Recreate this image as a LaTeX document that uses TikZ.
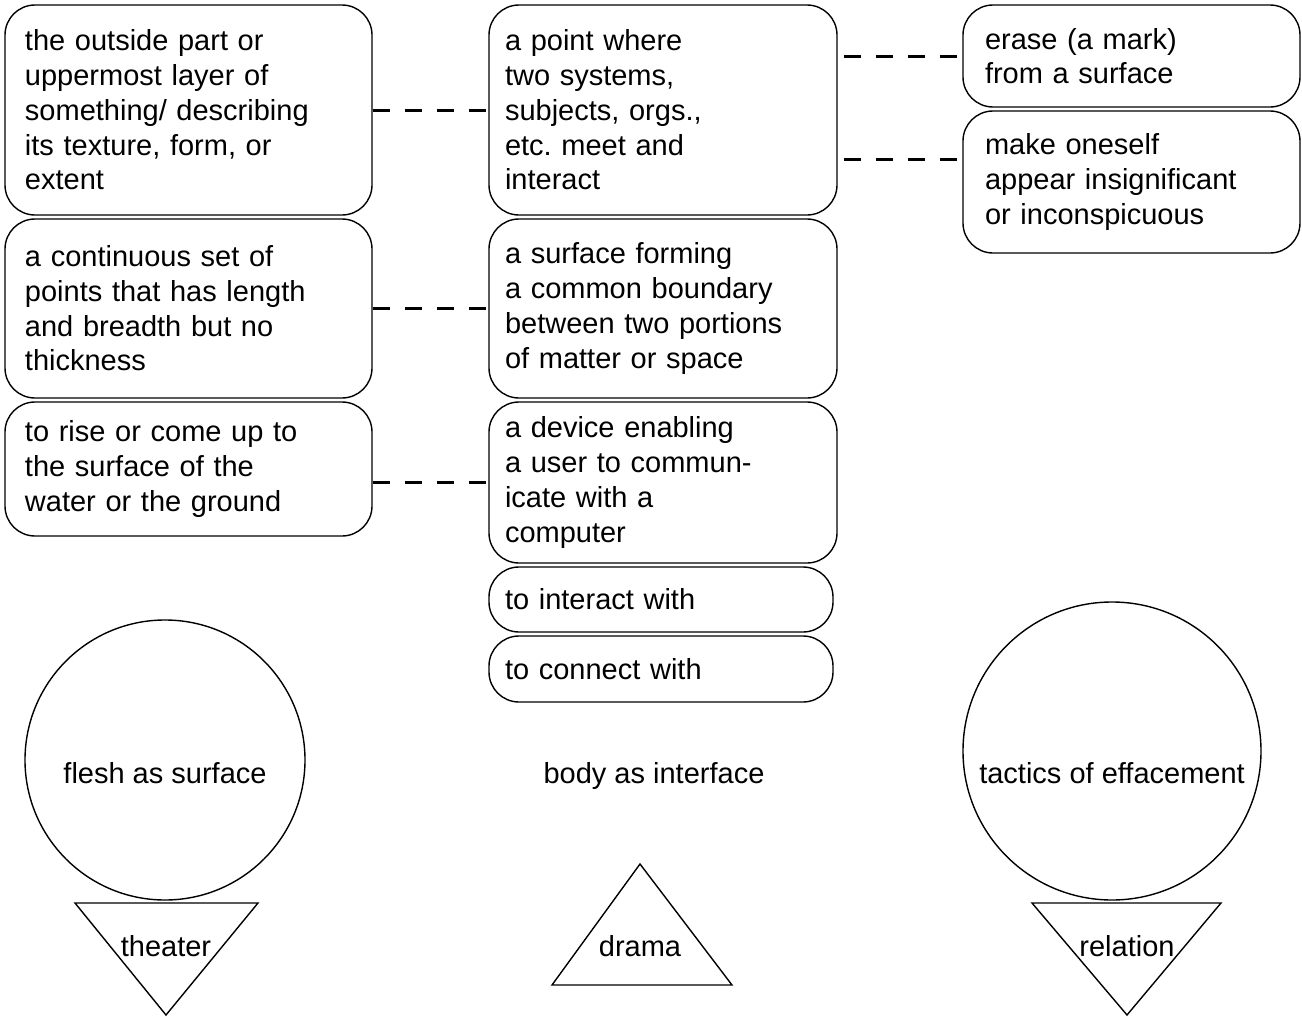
\documentclass[tikz,border=0pt]{standalone}
\usepackage{fontspec}
\setmainfont{Liberation Sans}
\usepackage{tikz}
\usetikzlibrary{positioning, calc}
\frenchspacing
\tikzset{
  % --- definition boxes (one column per concept) ---
  defbox/.style={
    draw, rectangle, rounded corners=15pt, align=left, line width=0.7pt,
    inner ysep=0pt, font=\fontsize{14.5pt}{17.35pt}\selectfont,
  },
  surfbox/.style={defbox, text width=163.5pt, inner xsep=10pt},
  intfbox/.style={defbox, text width=158pt, inner xsep=8pt},
  effbox/.style={defbox, text width=146.5pt, inner xsep=11pt},
  % --- concept shapes ---
  concept/.style={draw, circle, line width=0.7pt, inner sep=0pt},
  tag/.style={font=\fontsize{14.5pt}{17.35pt}\selectfont, inner sep=0pt,
    text height=10.5pt, text depth=0pt},
  triangle/.style={line width=0.7pt, line join=miter},
  % --- dashed links between boxes ---
  link/.style={dash pattern=on 8.5pt off 7.5pt, line width=1.5pt},
}

\begin{document}
\begin{tikzpicture}[x=0.5pt, y=-0.5pt]
    \useasboundingbox (0,0) rectangle (1302,1017);
    % left column: surface
    \node[surfbox, minimum height=105pt]  (surf1) at (188.5,110)   {the outside part or\\uppermost layer of\\something/ describing\\its texture, form, or\\extent};
    \node[surfbox, minimum height=89.5pt] (surf2) at (188.5,308.5) {a continuous set of\\points that has length\\and breadth but no\\thickness};
    \node[surfbox, minimum height=67pt]   (surf3) at (188.5,469)   {to rise or come up to\\the surface of the\\water or the ground};
    % middle column: interface
    \node[intfbox, minimum height=105pt]  (intf1) at (663,110)   {a point where\\two systems,\\subjects, orgs.,\\etc. meet and\\interact};
    \node[intfbox, minimum height=89.5pt] (intf2) at (663,308.5) {a surface forming\\a common boundary\\between two portions\\of matter or space};
    \node[intfbox, minimum height=80.5pt] (intf3) at (663,482.5) {a device enabling\\a user to commun-\\icate with a\\computer};
    \node[intfbox, text width=156pt, minimum height=32.5pt] (intf4) at (661,599.5) {to interact with};
    \node[intfbox, text width=156pt, minimum height=33pt]   (intf5) at (661,669)   {to connect with};
    % right column: effacement
    \node[effbox, minimum height=51pt] (eff1) at (1131.5,56)  {erase (a mark)\\from a surface};
    \node[effbox, minimum height=71pt] (eff2) at (1131.5,182) {make oneself\\appear insignificant\\or inconspicuous};
    % links
    \draw[link] (surf1.east) -- (intf1.west);
    \draw[link] (surf2.east) -- (intf2.west);
    \draw[link] (intf3.west -| surf3.east) -- (intf3.west);
    \draw[link, dash phase=13pt] (eff1.west -| intf1.east) -- (eff1.west);
    \draw[link, dash phase=13pt] ([yshift=-24.5pt]intf1.east) -- ([yshift=-24.5pt]intf1.east -| eff2.west);
    % concepts
    \node[concept, minimum size=140pt] (flesh) at (165,760) {};
    \node[tag] (fleshtxt) at (165,773) {flesh as surface};
    \node[tag] (bodytxt) at (654,773) {body as interface};
    \node[concept, minimum size=149pt] (tactics) at (1112,751) {};
    \node[tag] (tacticstxt) at (1112,773) {tactics of effacement};
    % triangles
    \draw[triangle] (75,903) -- (258,903) -- (166,1015) -- cycle;
    \node[tag] (theater) at (166,946) {theater};
    \draw[triangle] (640,864) -- (732,985) -- (552,985) -- cycle;
    \node[tag] (drama) at (640,946) {drama};
    \draw[triangle] (1032,903) -- (1221,903) -- (1127,1015) -- cycle;
    \node[tag] (relation) at (1127,946) {relation};
  \end{tikzpicture}
\end{document}
